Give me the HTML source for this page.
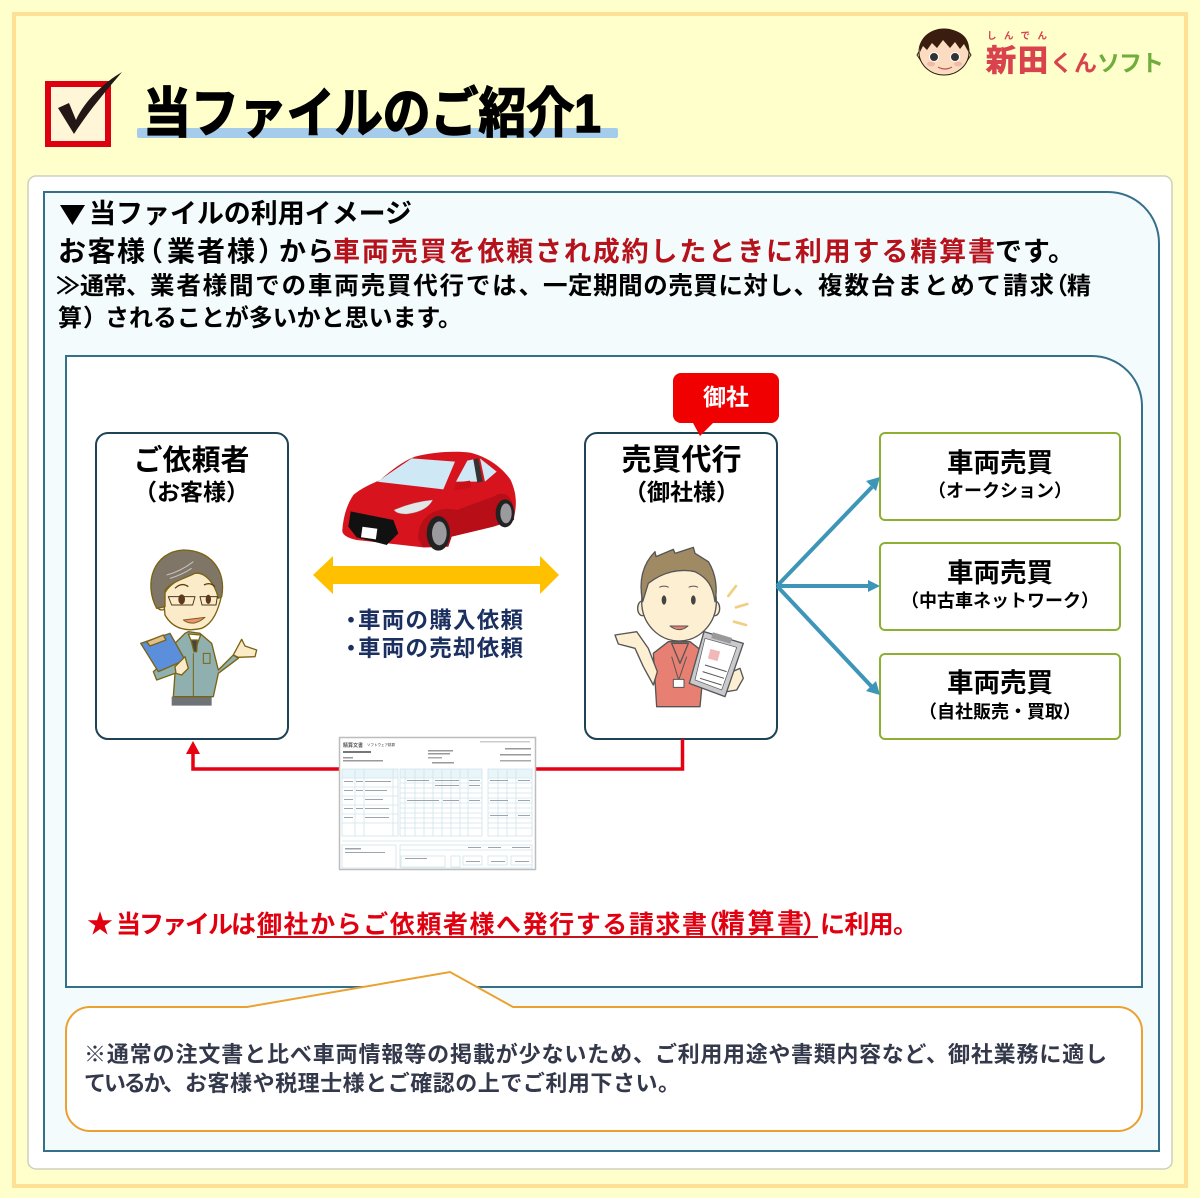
<!DOCTYPE html>
<html lang="ja">
<head>
<meta charset="utf-8">
<title>当ファイルのご紹介1</title>
<style>
html,body{margin:0;padding:0;background:#FFFFCB}
svg{display:block}
text{font-family:"Liberation Sans","Noto Sans CJK JP",sans-serif;font-weight:700}
</style>
</head>
<body>
<svg xmlns="http://www.w3.org/2000/svg" width="1200" height="1198" viewBox="0 0 1200 1198">
<rect width="1200" height="1198" fill="#FFFFCB"/>
<rect x="14" y="14" width="1172" height="1172" fill="#FFFFCB" stroke="#FFE196" stroke-width="4"/>

<!-- header icon -->
<rect x="48" y="84" width="60" height="60" fill="#FFF6D8" stroke="#DC0011" stroke-width="6"/>
<path d="M58,108 L69,103 L76,120 C85,100 105,82 122,72 C105,92 88,112 74,134 Z" fill="#231815"/>

<!-- title -->
<rect x="137" y="128" width="481" height="10" rx="2" fill="#A5CDEB"/>
<text transform="translate(143,132) scale(1,1.12)" x="0" y="0" font-size="48" textLength="458" fill="#000" stroke="#000" stroke-width="1.400">当ファイルのご紹介1</text>

<!-- logo -->
<g>
<path d="M920,50 l-3,5 l4,6 z M968,50 l3,5 l-4,6 z" fill="#F7D2B0" stroke="#3a2a1a"/>
<ellipse cx="944" cy="52" rx="25" ry="23" fill="#FBDCC0" stroke="#2d1b0e"/>
<path d="M920,52 C918,36 932,29 944,29 C958,29 971,36 969,53 L964,44 L960,49 L955,42 L950,48 L943,40 L937,48 L932,43 L927,50 L923,46 Z" fill="#3A1D0F"/>
<circle cx="934" cy="57" r="4.500" fill="#333" stroke="#fff"/>
<circle cx="955" cy="57" r="4.500" fill="#333" stroke="#fff"/>
<ellipse cx="931" cy="64" rx="4" ry="2.500" fill="#F3B8A8"/>
<ellipse cx="958" cy="64" rx="4" ry="2.500" fill="#F3B8A8"/>
<path d="M938,67 Q945,71 952,67" stroke="#B55" fill="none" stroke-width="1.200"/>
<text x="987" y="39" font-size="9.500" textLength="60" fill="#D9434E">しんでん</text>
<text x="986" y="71" font-size="30" textLength="62" fill="#D9434E" stroke="#D9434E" stroke-width="1">新田</text>
<text x="1050" y="71" font-size="23" textLength="47" fill="#D9434E">くん</text>
<text x="1097" y="71" font-size="23" textLength="67" fill="#6FAE3C">ソフト</text>
</g>

<!-- white card -->
<rect x="28" y="176" width="1144" height="993" rx="8" fill="#fff" stroke="#CFCFBE" stroke-width="1.500"/>

<!-- teal panel -->
<path d="M44,192 H1108 A51,51 0 0 1 1159,243 V1151 H44 Z" fill="#F4FBFC" stroke="#35708A" stroke-width="2"/>

<path d="M60,205 H85 L72.500,225 Z" fill="#000"/>
<text x="89" y="223" font-size="27" textLength="323" fill="#000">当ファイルの利用イメージ</text>

<text x="58" y="261" font-size="28" textLength="87" fill="#000">お客様</text>
<text x="136" y="261" font-size="27" fill="#000">（</text>
<text x="167" y="261" font-size="28" textLength="88" fill="#000">業者様</text>
<text x="258" y="261" font-size="27" fill="#000">）</text>
<text x="279" y="261" font-size="27" textLength="55" fill="#000">から</text>
<text x="333" y="261" font-size="27" textLength="662" fill="#B5121B">車両売買を依頼され成約したときに利用する精算書</text>
<text x="995" y="261" font-size="27" textLength="80" fill="#000">です。</text>

<text x="56" y="294" font-size="24" fill="#000">≫</text>
<text x="80" y="294" font-size="24" textLength="70" fill="#000">通常、</text>
<text x="150" y="294" font-size="24.500" textLength="393" fill="#000">業者様間での車両売買代行では、</text>
<text x="543" y="294" font-size="24.500" textLength="275" fill="#000">一定期間の売買に対し、</text>
<text x="818" y="294" font-size="24.500" textLength="236" fill="#000">複数台まとめて請求</text>
<text x="1044" y="294" font-size="24" fill="#000">（</text>
<text x="1067" y="294" font-size="24" fill="#000">精</text>

<text x="58" y="326" font-size="24" fill="#000">算</text>
<text x="83" y="326" font-size="24" fill="#000">）</text>
<text x="105" y="326" font-size="24" textLength="357" fill="#000">されることが多いかと思います。</text>

<!-- inner panel -->
<path d="M66,356 H1092 A50,50 0 0 1 1142,406 V987 H66 Z" fill="#fff" stroke="#35708A" stroke-width="2"/>

<!-- main boxes -->
<rect x="96" y="433" width="192" height="306" rx="12" fill="#fff" stroke="#1D4354" stroke-width="2"/>
<rect x="585" y="433" width="192" height="306" rx="12" fill="#fff" stroke="#1D4354" stroke-width="2"/>
<text x="191.500" y="470" font-size="29" text-anchor="middle" fill="#000">ご依頼者</text>
<text x="191.500" y="500" font-size="23" text-anchor="middle" fill="#000">（お客様）</text>
<text x="681.500" y="470" font-size="30" text-anchor="middle" fill="#000">売買代行</text>
<text x="681.500" y="500" font-size="23" text-anchor="middle" fill="#000">（御社様）</text>

<!-- red badge -->
<path d="M681,373 H771 a8,8 0 0 1 8,8 V415 a8,8 0 0 1 -8,8 H713 L700,436 L693,423 H681 a8,8 0 0 1 -8,-8 V381 a8,8 0 0 1 8,-8 Z" fill="#F00000"/>
<text x="726" y="405" font-size="23" text-anchor="middle" fill="#fff">御社</text>

<!-- green boxes -->
<rect x="880" y="433" width="240" height="87" rx="5" fill="#fff" stroke="#8DB032" stroke-width="2"/>
<rect x="880" y="543" width="240" height="87" rx="5" fill="#fff" stroke="#8DB032" stroke-width="2"/>
<rect x="880" y="654" width="240" height="85" rx="5" fill="#fff" stroke="#8DB032" stroke-width="2"/>
<text x="1000" y="472" font-size="26.500" text-anchor="middle" fill="#000">車両売買</text>
<text x="1000" y="497" font-size="18" text-anchor="middle" fill="#000">（オークション）</text>
<text x="1000" y="582" font-size="26.500" text-anchor="middle" fill="#000">車両売買</text>
<text x="1000" y="607" font-size="18" text-anchor="middle" fill="#000">（中古車ネットワーク）</text>
<text x="1000" y="692" font-size="26.500" text-anchor="middle" fill="#000">車両売買</text>
<text x="1000" y="718" font-size="18" text-anchor="middle" fill="#000">（自社販売・買取）</text>

<!-- blue arrows -->
<g stroke="#3D95B8" stroke-width="4" fill="none">
<path d="M777,586 L872,487"/>
<path d="M777,586 L870,586"/>
<path d="M777,586 L872,687"/>
</g>
<g fill="#3D95B8">
<path d="M880,477 L876,491 L866,481 Z"/>
<path d="M880,586 L868,580 L868,592 Z"/>
<path d="M880,695 L866,691 L876,681 Z"/>
</g>

<!-- yellow double arrow -->
<path d="M313,575 L333,556 V566 H540 V556 L559,575 L540,594 V584 H333 V594 Z" fill="#FFC000"/>
<text x="340" y="628" font-size="22" fill="#1B2F60">・</text>
<text x="358" y="628" font-size="22.500" textLength="165" fill="#1B2F60">車両の購入依頼</text>
<text x="340" y="656" font-size="22" fill="#1B2F60">・</text>
<text x="358" y="656" font-size="22.500" textLength="165" fill="#1B2F60">車両の売却依頼</text>

<!-- red connector -->
<path d="M682.500,739 V769 H536 M339,769 H193 V752" fill="none" stroke="#E60012" stroke-width="3.500"/>
<path d="M193,741 L200,754 H186 Z" fill="#E60012"/>

<!-- car -->
<g transform="translate(90,430) scale(.33333)">
<path d="M757,300 C760,260 770,225 790,195 C820,170 850,160 870,150 C900,125 935,95 975,80 C1030,65 1100,62 1140,68 C1190,80 1235,110 1262,150 C1280,190 1282,225 1270,270 L1210,290 L1085,320 L1075,350 L1000,352 L800,330 C775,325 755,315 757,300 Z" fill="#D7141E"/>
<path d="M985,330 C980,260 1040,225 1100,240 L1210,200 C1240,180 1275,190 1272,270 L1210,290 L1085,320 L1075,350 L1000,352 Z" fill="#B80E17"/>
<path d="M862,155 L965,85 L1095,95 L1060,178 Z" fill="#CFE8F5"/>
<path d="M1098,155 L1132,92 L1150,88 L1165,155 Z M1170,85 L1220,125 L1185,155 Z" fill="#CFE8F5"/>
<path d="M1150,88 L1165,85 L1178,155 L1162,158 Z" fill="#333"/>
<path d="M1092,182 L1098,158 L1140,152 L1145,172 Z" fill="#C90F18"/>
<path d="M782,244 L910,270 L925,310 L890,345 L800,322 L775,290 Z" fill="#111"/>
<rect x="815" y="293" width="45" height="32" fill="#fff" transform="rotate(8 837 309)"/>
<path d="M912,240 Q970,215 1028,210 Q1010,245 950,252 Q920,252 912,240 Z" fill="#E3E6E8" stroke="#999"/>
<ellipse cx="1045" cy="310" rx="35" ry="52" fill="#222"/>
<ellipse cx="1048" cy="310" rx="22" ry="36" fill="#9A9A9F"/>
<ellipse cx="1245" cy="250" rx="28" ry="42" fill="#222"/>
<ellipse cx="1248" cy="250" rx="17" ry="30" fill="#9A9A9F"/>
</g>

<!-- man 1 -->
<g transform="translate(130,540) scale(.33333)" stroke="#7A6310" stroke-width="4" stroke-linejoin="round">
<path d="M125,470 H245 V497 H125 Z" fill="#6E7378" stroke="none"/>
<path d="M130,315 L165,280 L175,275 L210,280 L245,310 L265,390 L310,345 L325,355 L265,400 L250,470 H130 L135,400 L80,420 L70,395 L130,345 Z" fill="#8FB0AE"/>
<path d="M190,340 V470" fill="none" stroke-width="3"/>
<path d="M175,282 L195,330 L212,285 Z" fill="#fff"/>
<path d="M183,300 L202,300 L200,335 L192,335 Z" fill="#444"/>
<rect x="220" y="340" width="20" height="30" fill="#8FB0AE" stroke-width="3"/>
<path d="M310,345 L335,298 L345,318 L380,330 L375,350 L325,352 Z" fill="#FCEBC9"/>
<path d="M32,310 L120,280 L165,360 L85,395 Z" fill="#5B8FDB"/>
<path d="M50,305 L100,285 L108,300 L60,318 Z" fill="#E0C08E"/>
<path d="M135,380 L165,350 L175,385 L155,405 L138,400 Z" fill="#FCEBC9"/>
<ellipse cx="95" cy="185" rx="18" ry="25" fill="#FCEBC9"/>
<path d="M100,170 L105,225 C130,270 175,275 215,265 C250,250 265,210 275,165 C265,120 220,90 190,100 C150,115 110,135 100,170 Z" fill="#FCEBC9"/>
<path d="M80,205 C40,130 70,35 160,30 C240,30 290,90 275,170 L265,175 C255,130 225,95 195,100 C165,115 125,125 105,150 L105,200 Z" fill="#7F7668"/>
<path d="M110,105 Q150,95 190,65 M120,115 Q155,105 185,85" fill="none" stroke="#C9C5BD" stroke-width="3"/>
<path d="M115,170 H195 L188,195 H125 Z M210,170 H262 L258,195 H216 Z" fill="none" stroke="#4a3a20" stroke-width="3"/>
<ellipse cx="155" cy="178" rx="10" ry="15" fill="#5a3a1a" stroke="none"/>
<ellipse cx="235" cy="178" rx="8" ry="14" fill="#5a3a1a" stroke="none"/>
<path d="M135,145 Q155,125 175,140 M222,135 Q240,125 255,140" fill="none" stroke="#5a4210" stroke-width="4"/>
<path d="M160,240 Q190,262 225,232 Z" fill="#EF8F7E" stroke-width="3"/>
</g>

<!-- man 2 -->
<g transform="translate(580,370) scale(.33333)" stroke="#555" stroke-width="4" stroke-linejoin="round">
<path d="M220,850 L265,815 L330,815 L375,850 L360,1010 H230 Z" fill="#E87F73"/>
<path d="M275,820 L300,880 L325,820 Z" fill="#E87F73"/>
<path d="M275,860 L296,930 L320,860" fill="none" stroke-width="3"/>
<rect x="280" y="928" width="32" height="24" fill="#fff" stroke-width="3"/>
<path d="M105,795 L170,785 L205,835 L232,905 L220,945 L190,890 L165,835 L115,822 Z" fill="#FDEFD2"/>
<path d="M445,910 L480,895 L490,925 L470,960 L440,965 Z" fill="#FDEFD2"/>
<path d="M372,785 L490,820 L435,980 L328,940 Z" fill="#C9C9CE"/>
<path d="M375,805 L470,832 L425,960 L345,930 Z" fill="#fff" stroke-width="2"/>
<rect x="387" y="840" width="30" height="30" fill="#F2B8B8" stroke="none" transform="rotate(15 402 855)"/>
<path d="M375,885 L440,905 M368,905 L432,925 M360,925 L425,945" stroke-width="3" fill="none"/>
<rect x="395" y="795" width="60" height="18" fill="#999" stroke="none" transform="rotate(17 425 804)"/>
<ellipse cx="187" cy="715" rx="14" ry="22" fill="#FDEFD2"/>
<ellipse cx="405" cy="715" rx="14" ry="22" fill="#FDEFD2"/>
<ellipse cx="297" cy="695" rx="112" ry="118" fill="#FDEFD2"/>
<path d="M188,695 C175,630 190,580 225,545 L228,560 L280,538 L285,550 L340,532 L345,550 L385,575 C410,615 412,660 405,695 C398,650 385,625 345,605 C300,595 250,605 205,640 Z" fill="#A08A63"/>
<ellipse cx="252" cy="690" rx="7" ry="14" fill="#444" stroke="none"/>
<ellipse cx="340" cy="690" rx="7" ry="14" fill="#444" stroke="none"/>
<path d="M238,652 Q252,645 266,652 M326,652 Q340,645 354,652" fill="none" stroke-width="3"/>
<path d="M270,768 Q298,790 324,768 Z" fill="#E87F73" stroke-width="3"/>
<path d="M445,678 L468,648 M468,712 L502,702 M462,755 L498,765" stroke="#F0D080" stroke-width="8" fill="none" stroke-linecap="round"/>
</g>

<!-- document -->
<g>
<rect x="339.500" y="737.500" width="196" height="132" fill="#fff" stroke="#BDBDBD" stroke-width="1.500"/>
<text x="343" y="747" font-size="5" fill="#555">精算文書</text>
<text x="367" y="746" font-size="3.500" fill="#777">ソフトウェア精算</text>
<rect x="343" y="751" width="28" height="2" fill="#777"/>
<rect x="343" y="757" width="10" height="1.500" fill="#999"/>
<rect x="343" y="760" width="40" height="1.500" fill="#999"/>
<rect x="428" y="750" width="25" height="1.500" fill="#999"/>
<rect x="428" y="753" width="22" height="1.500" fill="#999"/>
<rect x="428" y="757" width="14" height="1.500" fill="#aaa"/>
<rect x="432" y="762" width="22" height="1.500" fill="#999"/>
<rect x="505" y="748" width="26" height="1.500" fill="#999"/>
<rect x="500" y="754" width="31" height="1.500" fill="#999"/>
<rect x="500" y="760" width="31" height="1.500" fill="#aaa"/>
<rect x="480" y="741" width="50" height="1.500" fill="#ccc"/>
<rect x="342" y="769" width="56" height="9" fill="#E8F5F9"/>
<rect x="400" y="769" width="82" height="9" fill="#E8F5F9"/>
<rect x="488" y="769" width="44" height="9" fill="#E8F5F9"/>
<g fill="none" stroke="#CFE5EC" stroke-width=".8">
<rect x="342" y="769" width="56" height="67"/>
<rect x="400" y="769" width="82" height="67"/>
<rect x="488" y="769" width="44" height="67"/>
<path d="M342,778H398M342,787H398M342,796H398M342,805H398M342,814H398M342,823H398"/>
<path d="M400,778H482M400,783H482M400,788H482M400,793H482M400,798H482M400,803H482M400,808H482M400,813H482M400,818H482M400,823H482M400,828H482"/>
<path d="M488,778H532M488,783H532M488,788H532M488,793H532M488,798H532M488,803H532M488,808H532M488,813H532M488,818H532M488,823H532M488,828H532"/>
<path d="M355,769V836M364,769V836M393,769V836M405,769V836M415,769V836M424,769V836M433,769V836M442,769V836M451,769V836M460,769V836M468,769V836M498,769V836M507,769V836M516,769V836"/>
<rect x="342" y="845" width="54" height="23"/>
<rect x="400" y="845" width="132" height="23"/>
<rect x="401" y="856" width="44" height="11"/>
<rect x="451" y="856" width="9" height="11"/>
<rect x="463" y="856" width="19" height="9"/>
<rect x="488" y="856" width="19" height="9"/>
<rect x="511" y="856" width="21" height="9"/>
<path d="M342,841H532M400,850H532"/>
</g>
<g fill="#9AA5AD">
<rect x="344" y="781" width="9" height="1"/><rect x="356" y="781" width="7" height="1"/><rect x="365" y="781" width="26" height="1"/>
<rect x="344" y="790" width="9" height="1"/><rect x="356" y="790" width="7" height="1"/><rect x="365" y="790" width="22" height="1"/>
<rect x="344" y="799" width="9" height="1"/><rect x="365" y="799" width="18" height="1"/>
<rect x="344" y="808" width="9" height="1"/><rect x="356" y="808" width="7" height="1"/><rect x="365" y="808" width="24" height="1"/>
<rect x="344" y="817" width="9" height="1"/><rect x="365" y="817" width="24" height="1"/>
<rect x="407" y="780" width="22" height="1"/><rect x="435" y="780" width="24" height="1"/><rect x="469" y="780" width="11" height="1"/>
<rect x="435" y="785" width="24" height="1"/><rect x="469" y="785" width="11" height="1"/>
<rect x="407" y="800" width="32" height="1"/><rect x="443" y="800" width="16" height="1"/><rect x="469" y="800" width="11" height="1"/>
<rect x="490" y="780" width="18" height="1"/><rect x="518" y="780" width="12" height="1"/>
<rect x="490" y="800" width="18" height="1"/><rect x="518" y="800" width="12" height="1"/>
<rect x="490" y="815" width="18" height="1"/><rect x="518" y="815" width="12" height="1"/>
<rect x="345" y="848" width="16" height="1.500"/><rect x="345" y="852" width="40" height="1"/>
<rect x="405" y="858" width="22" height="1"/><rect x="466" y="861" width="14" height="1"/><rect x="491" y="861" width="14" height="1"/><rect x="515" y="861" width="14" height="1"/>
<rect x="468" y="847" width="13" height="1"/><rect x="488" y="847" width="13" height="1"/><rect x="512" y="847" width="18" height="1"/>
</g>
</g>

<!-- red sentence -->
<text x="87" y="933" font-size="26" fill="#E00010">★</text>
<text x="116" y="933" font-size="25" textLength="140" fill="#E00010">当ファイルは</text>
<text x="257" y="933" font-size="25" textLength="450" fill="#E00010">御社からご依頼者様へ発行する請求書</text>
<text x="695" y="933" font-size="25" fill="#E00010">（</text>
<text x="718" y="933" font-size="27" textLength="86" fill="#E00010">精算書</text>
<text x="802" y="933" font-size="25" fill="#E00010">）</text>
<rect x="257" y="936" width="561" height="2" fill="#C8101A"/>
<text x="820" y="933" font-size="25" textLength="98" fill="#E00010">に利用。</text>

<!-- callout -->
<path d="M90,1007 H247 L450,972 L513,1007 H1118 A24,24 0 0 1 1142,1031 V1107 A24,24 0 0 1 1118,1131 H90 A24,24 0 0 1 66,1107 V1031 A24,24 0 0 1 90,1007 Z" fill="#fff" stroke="#EBA12F" stroke-width="2"/>
<text x="84" y="1062" font-size="22" textLength="571" fill="#33384A">※通常の注文書と比べ車両情報等の掲載が少ないため、</text>
<text x="655" y="1062" font-size="22" textLength="293" fill="#33384A">ご利用用途や書類内容など、</text>
<text x="948" y="1062" font-size="22" textLength="159" fill="#33384A">御社業務に適し</text>
<text x="84" y="1091" font-size="22" textLength="101" fill="#33384A">ているか、</text>
<text x="185" y="1091" font-size="22" textLength="495" fill="#33384A">お客様や税理士様とご確認の上でご利用下さい。</text>
</svg>
</body>
</html>
